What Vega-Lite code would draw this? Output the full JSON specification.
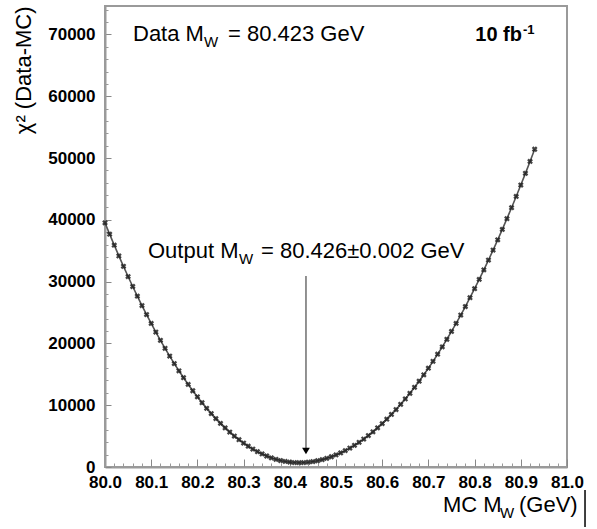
{
  "$schema": "https://vega.github.io/schema/vega-lite/v6.json",
  "width": 462,
  "height": 461,
  "autosize": "none",
  "padding": {"left": 105, "top": 6, "right": 30, "bottom": 62},
  "background": "white",
  "config": {"font": "Liberation Sans", "view": {"stroke": "#9a9a9a", "strokeWidth": 2}},
  "resolve": {"axis": {"x": "independent", "y": "independent"}},
  "datasets": {
    "curve": [
      {"m": 80.00, "chi2": 39510}, {"m": 80.01, "chi2": 37680}, {"m": 80.02, "chi2": 35900}, {"m": 80.03, "chi2": 34160},
      {"m": 80.04, "chi2": 32470}, {"m": 80.05, "chi2": 30820}, {"m": 80.06, "chi2": 29210}, {"m": 80.07, "chi2": 27650},
      {"m": 80.08, "chi2": 26130}, {"m": 80.09, "chi2": 24660}, {"m": 80.10, "chi2": 23230}, {"m": 80.11, "chi2": 21840},
      {"m": 80.12, "chi2": 20500}, {"m": 80.13, "chi2": 19200}, {"m": 80.14, "chi2": 17950}, {"m": 80.15, "chi2": 16740},
      {"m": 80.16, "chi2": 15570}, {"m": 80.17, "chi2": 14450}, {"m": 80.18, "chi2": 13370}, {"m": 80.19, "chi2": 12340},
      {"m": 80.20, "chi2": 11350}, {"m": 80.21, "chi2": 10400}, {"m": 80.22, "chi2": 9500}, {"m": 80.23, "chi2": 8640},
      {"m": 80.24, "chi2": 7830}, {"m": 80.25, "chi2": 7060}, {"m": 80.26, "chi2": 6330}, {"m": 80.27, "chi2": 5650},
      {"m": 80.28, "chi2": 5010}, {"m": 80.29, "chi2": 4420}, {"m": 80.30, "chi2": 3870}, {"m": 80.31, "chi2": 3360},
      {"m": 80.32, "chi2": 2900}, {"m": 80.33, "chi2": 2480}, {"m": 80.34, "chi2": 2110}, {"m": 80.35, "chi2": 1780},
      {"m": 80.36, "chi2": 1490}, {"m": 80.37, "chi2": 1250}, {"m": 80.38, "chi2": 1050}, {"m": 80.39, "chi2": 900},
      {"m": 80.40, "chi2": 790}, {"m": 80.41, "chi2": 720}, {"m": 80.42, "chi2": 700}, {"m": 80.43, "chi2": 720},
      {"m": 80.44, "chi2": 780}, {"m": 80.45, "chi2": 880}, {"m": 80.46, "chi2": 1010}, {"m": 80.47, "chi2": 1190},
      {"m": 80.48, "chi2": 1400}, {"m": 80.49, "chi2": 1660}, {"m": 80.50, "chi2": 1950}, {"m": 80.51, "chi2": 2280},
      {"m": 80.52, "chi2": 2650}, {"m": 80.53, "chi2": 3060}, {"m": 80.54, "chi2": 3510}, {"m": 80.55, "chi2": 4000},
      {"m": 80.56, "chi2": 4520}, {"m": 80.57, "chi2": 5090}, {"m": 80.58, "chi2": 5690}, {"m": 80.59, "chi2": 6340},
      {"m": 80.60, "chi2": 7020}, {"m": 80.61, "chi2": 7740}, {"m": 80.62, "chi2": 8500}, {"m": 80.63, "chi2": 9300},
      {"m": 80.64, "chi2": 10140}, {"m": 80.65, "chi2": 11020}, {"m": 80.66, "chi2": 11930}, {"m": 80.67, "chi2": 12890},
      {"m": 80.68, "chi2": 13880}, {"m": 80.69, "chi2": 14920}, {"m": 80.70, "chi2": 15990}, {"m": 80.71, "chi2": 17100},
      {"m": 80.72, "chi2": 18250}, {"m": 80.73, "chi2": 19440}, {"m": 80.74, "chi2": 20670}, {"m": 80.75, "chi2": 21940},
      {"m": 80.76, "chi2": 23240}, {"m": 80.77, "chi2": 24590}, {"m": 80.78, "chi2": 25970}, {"m": 80.79, "chi2": 27400},
      {"m": 80.80, "chi2": 28860}, {"m": 80.81, "chi2": 30360}, {"m": 80.82, "chi2": 31900}, {"m": 80.83, "chi2": 33480},
      {"m": 80.84, "chi2": 35100}, {"m": 80.85, "chi2": 36760}, {"m": 80.86, "chi2": 38450}, {"m": 80.87, "chi2": 40190},
      {"m": 80.88, "chi2": 41960}, {"m": 80.89, "chi2": 43780}, {"m": 80.90, "chi2": 45630}, {"m": 80.91, "chi2": 47520},
      {"m": 80.92, "chi2": 49450}, {"m": 80.93, "chi2": 51420}
    ],
    "arrow": [{"m": 80.435, "chi2": 30900, "chi2_end": 2400}],
    "arrowhead": [{"m": 80.435, "chi2": 2590}],
    "textBig": [
      {"m": 80.0606, "chi2": 68930, "t": "Data M"},
      {"m": 80.2662, "chi2": 68930, "t": "= 80.423 GeV"},
      {"m": 80.0931, "chi2": 33820, "t": "Output M"},
      {"m": 80.3377, "chi2": 33820, "t": "= 80.426±0.002 GeV"},
      {"m": 80.7316, "chi2": -7280, "t": "MC M"},
      {"m": 80.896, "chi2": -7280, "t": "(GeV)"}
    ],
    "textSub": [
      {"m": 80.2143, "chi2": 67960, "t": "W"},
      {"m": 80.2900, "chi2": 32850, "t": "W"},
      {"m": 80.8550, "chi2": -8250, "t": "W"}
    ],
    "textBold": [{"m": 80.9026, "chi2": 68930, "t": "10 fb"}],
    "textSup": [{"m": 80.9048, "chi2": 70000, "t": "-1"}],
    "bar": [{"m": 81.039, "chi2": -3720, "chi2_end": -9710}]
  },
  "layer": [
    {
      "data": {"name": "curve"},
      "mark": {"type": "line", "color": "#555555", "strokeWidth": 1.6},
      "encoding": {
        "x": {
          "field": "m", "type": "quantitative",
          "scale": {"domain": [80, 81], "nice": false, "zero": false},
          "axis": {
            "title": null, "orient": "bottom",
            "values": [80, 80.1, 80.2, 80.3, 80.4, 80.5, 80.6, 80.7, 80.8, 80.9, 81],
            "format": ".1f",
            "tickSize": -8, "tickColor": "#888888",
            "domainColor": "#9a9a9a", "domainWidth": 2,
            "labelFont": "Liberation Sans", "labelFontWeight": "bold", "labelFontSize": 17, "labelColor": "black",
            "labelPadding": 15, "labelOverlap": false, "labelFlush": false, "grid": false
          }
        },
        "y": {
          "field": "chi2", "type": "quantitative",
          "scale": {"domain": [0, 74600], "nice": false},
          "axis": {
            "title": "χ² (Data-MC)", "orient": "left",
            "titleFont": "Liberation Sans", "titleFontSize": 22, "titleFontWeight": "normal", "titleColor": "black",
            "titleAnchor": "end", "titlePadding": 12,
            "values": [0, 10000, 20000, 30000, 40000, 50000, 60000, 70000],
            "format": "d",
            "tickSize": -6, "tickColor": "#888888",
            "domainColor": "#9a9a9a", "domainWidth": 2,
            "labelFont": "Liberation Sans", "labelFontWeight": "bold", "labelFontSize": 17, "labelColor": "black",
            "labelPadding": 16, "labelOverlap": false, "labelFlush": false, "grid": false
          }
        }
      }
    },
    {
      "data": {"name": "curve"},
      "mark": {"type": "point", "shape": "cross", "angle": 45, "filled": true, "size": 34, "color": "#222222", "opacity": 0.85},
      "encoding": {
        "x": {
          "field": "m", "type": "quantitative",
          "axis": {
            "title": null, "orient": "bottom", "labels": false, "domain": false, "grid": false,
            "values": [80.02,80.04,80.06,80.08,80.12,80.14,80.16,80.18,80.22,80.24,80.26,80.28,80.32,80.34,80.36,80.38,80.42,80.44,80.46,80.48,80.52,80.54,80.56,80.58,80.62,80.64,80.66,80.68,80.72,80.74,80.76,80.78,80.82,80.84,80.86,80.88,80.92,80.94,80.96,80.98],
            "tickSize": -4, "tickColor": "#999999"
          }
        },
        "y": {
          "field": "chi2", "type": "quantitative",
          "axis": {
            "title": null, "orient": "left", "labels": false, "domain": false, "grid": false,
            "values": [2000,4000,6000,8000,12000,14000,16000,18000,22000,24000,26000,28000,32000,34000,36000,38000,42000,44000,46000,48000,52000,54000,56000,58000,62000,64000,66000,68000,72000,74000],
            "tickSize": -3, "tickColor": "#999999"
          }
        }
      }
    },
    {
      "data": {"name": "arrow"},
      "mark": {"type": "rule", "color": "#777777", "strokeWidth": 1.6},
      "encoding": {
        "x": {"field": "m", "type": "quantitative", "axis": null},
        "y": {"field": "chi2", "type": "quantitative", "axis": null},
        "y2": {"field": "chi2_end"}
      }
    },
    {
      "data": {"name": "arrowhead"},
      "mark": {"type": "point", "shape": "triangle-down", "filled": true, "size": 60, "color": "black", "opacity": 1},
      "encoding": {
        "x": {"field": "m", "type": "quantitative", "axis": null},
        "y": {"field": "chi2", "type": "quantitative", "axis": null}
      }
    },
    {
      "data": {"name": "textBig"},
      "mark": {"type": "text", "align": "left", "baseline": "alphabetic", "fontSize": 22, "font": "Liberation Sans", "color": "black"},
      "encoding": {
        "x": {"field": "m", "type": "quantitative", "axis": null},
        "y": {"field": "chi2", "type": "quantitative", "axis": null},
        "text": {"field": "t"}
      }
    },
    {
      "data": {"name": "textSub"},
      "mark": {"type": "text", "align": "left", "baseline": "alphabetic", "fontSize": 15, "font": "Liberation Sans", "color": "black"},
      "encoding": {
        "x": {"field": "m", "type": "quantitative", "axis": null},
        "y": {"field": "chi2", "type": "quantitative", "axis": null},
        "text": {"field": "t"}
      }
    },
    {
      "data": {"name": "textBold"},
      "mark": {"type": "text", "align": "right", "baseline": "alphabetic", "fontSize": 20, "fontWeight": "bold", "font": "Liberation Sans", "color": "black"},
      "encoding": {
        "x": {"field": "m", "type": "quantitative", "axis": null},
        "y": {"field": "chi2", "type": "quantitative", "axis": null},
        "text": {"field": "t"}
      }
    },
    {
      "data": {"name": "textSup"},
      "mark": {"type": "text", "align": "left", "baseline": "alphabetic", "fontSize": 13, "fontWeight": "bold", "font": "Liberation Sans", "color": "black"},
      "encoding": {
        "x": {"field": "m", "type": "quantitative", "axis": null},
        "y": {"field": "chi2", "type": "quantitative", "axis": null},
        "text": {"field": "t"}
      }
    },
    {
      "data": {"name": "bar"},
      "mark": {"type": "rule", "color": "black", "strokeWidth": 1.5},
      "encoding": {
        "x": {"field": "m", "type": "quantitative", "axis": null},
        "y": {"field": "chi2", "type": "quantitative", "axis": null},
        "y2": {"field": "chi2_end"}
      }
    }
  ]
}
